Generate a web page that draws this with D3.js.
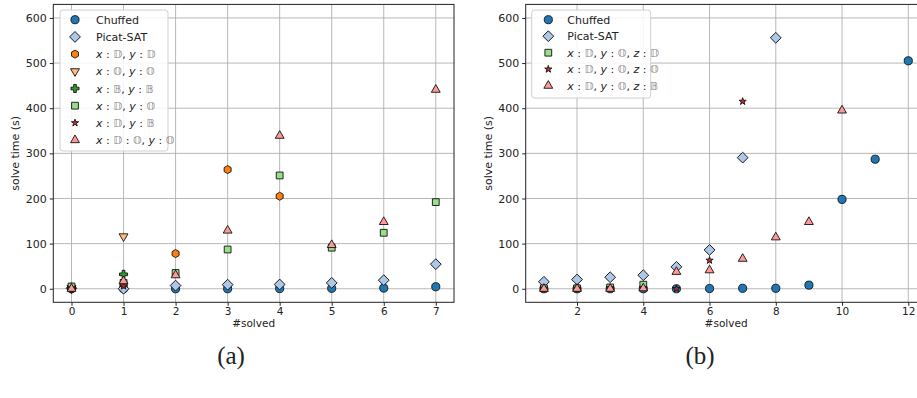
<!DOCTYPE html>
<html>
<head>
<meta charset="utf-8">
<script src="https://cdn.jsdelivr.net/npm/d3@7"></script>
<style>
  body { margin: 0; background: #fff; }
  text { font-family: "DejaVu Sans", sans-serif; fill: #222; }
</style>
</head>
<body>
<script>
// ---- data ----
var yTicks = [0, 100, 200, 300, 400, 500, 600];

// panel (a)
var xTicksA = [0, 1, 2, 3, 4, 5, 6, 7];
var chuffedA = [0, 0, 0, 0, 0.5, 1, 1.5, 4.5];
var picatA = [1, 0, 7, 9, 9.5, 13, 19, 54.5];
var ddA = [0, 10, 78, 264, 205];          // x:D, y:D
var ooA = [2, 116];                        // x:O, y:O
var bbA = [3, 32];                         // x:B, y:B
var doA = [5, 13, 35, 87, 251, 91, 124, 192]; // x:D, y:O
var dbA = [2, 6];                          // x:D, y:B
var dodA = [0, 17, 30, 129, 339, 97, 148, 441]; // x:D:O, y:O

// panel (b)
var xTicksB = [2, 4, 6, 8, 10, 12];
var chuffedB = [0, 0, 0, 0, 0, 0.5, 1, 1, 8, 198, 287, 505];
var picatB = [15.5, 20.5, 25.5, 30, 48.5, 86, 290.5, 556];
var zdB = [1, 1, 3, 9];                    // z:D
var zoB = [1, 1, 2, 2, 0, 63, 415];        // z:O
var zbB = [0, 0, 0, 1, 37.5, 41, 66.5, 114, 148, 395]; // z:B

var W = 917, H = 398;
var svg = d3.select("body").append("svg")
    .attr("width", W)
    .attr("height", H)
    .style("background", "#fff");

// marker shapes
var hexagon = {
  draw: function(ctx, size) {
    var r = Math.sqrt(size / (1.5 * Math.sqrt(3)));
    for (var i = 0; i < 6; i++) {
      var a = Math.PI / 3 * i - Math.PI / 2;
      if (i == 0) ctx.moveTo(r * Math.cos(a), r * Math.sin(a));
      else ctx.lineTo(r * Math.cos(a), r * Math.sin(a));
    }
    ctx.closePath();
  }
};

var styles = {
  chuffed: {type: d3.symbolCircle, size: 52, color: "#1f77b4", rot: 0},
  picat:   {type: d3.symbolSquare, size: 58, color: "#aec7e8", rot: 45},
  dd:      {type: hexagon, size: 42, color: "#ff7f0e", rot: 0},
  oo:      {type: d3.symbolTriangle, size: 34, color: "#ffbb78", rot: 180},
  bb:      {type: d3.symbolCross, size: 36, color: "#2ca02c", rot: 0},
  dsq:     {type: d3.symbolSquare, size: 46, color: "#98df8a", rot: 0},
  star:    {type: d3.symbolStar, size: 16, color: "#d62728", rot: 0},
  tri:     {type: d3.symbolTriangle, size: 34, color: "#ff9896", rot: 0}
};

function marker(g, st, x, y) {
  g.append("path")
    .attr("d", d3.symbol().type(st.type).size(st.size)())
    .attr("transform", "translate(" + x + "," + y + ") rotate(" + st.rot + ")")
    .attr("fill", st.color)
    .attr("stroke", "#111")
    .attr("stroke-width", 0.9);
}

// label with italic variables and double-struck letters
function mathLabel(g, x, y, parts) {
  var t = g.append("text").attr("x", x).attr("y", y).style("font-size", "11px");
  parts.forEach(function(p) {
    var s = t.append("tspan").text(p[0]);
    if (p[1] == "i") s.style("font-style", "italic");
    if (p[1] == "b") s.style("fill", "#8a8a8a");
  });
}

function panel(cfg) {
  var x = d3.scaleLinear().domain(cfg.xDomain).range([cfg.left, cfg.right]);
  var y = d3.scaleLinear().domain([-30, 630]).range([302.3, 4.4]);

  var g = svg.append("g");

  // grid
  g.selectAll(".gx").data(cfg.xTicks).enter().append("line")
    .attr("x1", function(d) { return x(d); })
    .attr("x2", function(d) { return x(d); })
    .attr("y1", y.range()[0]).attr("y2", y.range()[1])
    .attr("stroke", "#b0b0b0").attr("stroke-width", 0.9);
  g.selectAll(".gy").data(yTicks).enter().append("line")
    .attr("x1", cfg.left).attr("x2", cfg.right)
    .attr("y1", function(d) { return y(d); })
    .attr("y2", function(d) { return y(d); })
    .attr("stroke", "#b0b0b0").attr("stroke-width", 0.9);

  // axes
  var xAxis = d3.axisBottom(x).tickValues(cfg.xTicks).tickSizeInner(3.5).tickSizeOuter(0).tickPadding(2);
  var yAxis = d3.axisLeft(y).tickValues(yTicks).tickSizeInner(3.5).tickSizeOuter(0).tickPadding(3);
  var gx = g.append("g").attr("transform", "translate(0," + y.range()[0] + ")").call(xAxis);
  var gy = g.append("g").attr("transform", "translate(" + cfg.left + ",0)").call(yAxis);
  gx.selectAll("text").style("font-size", "10.5px");
  gy.selectAll("text").style("font-size", "11px");
  [gx, gy].forEach(function(a) {
    a.select(".domain").remove();
    a.selectAll("line").attr("stroke", "#222");
    a.selectAll("text").style("font-family", "DejaVu Sans").attr("fill", "#222");
  });

  // markers
  cfg.series.forEach(function(s) {
    var gs = g.append("g");
    s.values.forEach(function(v, i) {
      marker(gs, styles[s.style], x(s.x0 + i), y(v));
    });
  });

  // frame
  g.append("rect")
    .attr("x", cfg.left).attr("y", y.range()[1])
    .attr("width", cfg.right - cfg.left).attr("height", y.range()[0] - y.range()[1])
    .attr("fill", "none").attr("stroke", "#222").attr("stroke-width", 1);

  // axis labels
  g.append("text")
    .attr("x", (cfg.left + cfg.right) / 2).attr("y", 327)
    .attr("text-anchor", "middle").style("font-size", "10.5px")
    .text("#solved");
  g.append("text")
    .attr("transform", "translate(" + (cfg.left - 34) + "," + y(300) + ") rotate(-90)")
    .attr("text-anchor", "middle").style("font-size", "11px")
    .text("solve time (s)");

  // caption
  g.append("text")
    .attr("x", cfg.capX).attr("y", 364)
    .attr("text-anchor", "middle")
    .style("font-family", "Liberation Serif, serif").style("font-size", "25px")
    .text(cfg.caption);

  // legend
  var lg = g.append("g");
  lg.append("rect")
    .attr("x", cfg.leg.x).attr("y", 10)
    .attr("width", cfg.leg.w).attr("height", cfg.leg.h)
    .attr("rx", 3)
    .attr("fill", "#fff").attr("fill-opacity", 0.85)
    .attr("stroke", "#d0d0d0");
  cfg.series.forEach(function(s, i) {
    var yy = 19.7 + i * cfg.leg.step;
    marker(lg, styles[s.style], cfg.leg.x + cfg.leg.mx, yy);
    if (s.label) {
      mathLabel(lg, cfg.leg.x + cfg.leg.tx, yy + 4, s.label);
    } else {
      lg.append("text").attr("x", cfg.leg.x + cfg.leg.tx).attr("y", yy + 4)
        .style("font-size", "11px").text(s.name);
    }
  });
}

var D = "\u{1D53B}", O = "\u{1D546}", B = "\u{1D539}";

panel({
  left: 53.3, right: 454, xDomain: [-0.35, 7.35], xTicks: xTicksA,
  caption: "(a)", capX: 231,
  leg: {x: 60, w: 108, h: 141, step: 17.2, mx: 15, tx: 36},
  series: [
    {name: "Chuffed", style: "chuffed", x0: 0, values: chuffedA},
    {name: "Picat-SAT", style: "picat", x0: 0, values: picatA},
    {label: [["x", "i"], [" : ", ""], [D, "b"], [", ", ""], ["y", "i"], [" : ", ""], [D, "b"]], style: "dd", x0: 0, values: ddA},
    {label: [["x", "i"], [" : ", ""], [O, "b"], [", ", ""], ["y", "i"], [" : ", ""], [O, "b"]], style: "oo", x0: 0, values: ooA},
    {label: [["x", "i"], [" : ", ""], [B, "b"], [", ", ""], ["y", "i"], [" : ", ""], [B, "b"]], style: "bb", x0: 0, values: bbA},
    {label: [["x", "i"], [" : ", ""], [D, "b"], [", ", ""], ["y", "i"], [" : ", ""], [O, "b"]], style: "dsq", x0: 0, values: doA},
    {label: [["x", "i"], [" : ", ""], [D, "b"], [", ", ""], ["y", "i"], [" : ", ""], [B, "b"]], style: "star", x0: 0, values: dbA},
    {label: [["x", "i"], [" : ", ""], [D, "b"], [" : ", ""], [O, "b"], [", ", ""], ["y", "i"], [" : ", ""], [O, "b"]], style: "tri", x0: 0, values: dodA}
  ]
});

panel({
  left: 525.7, right: 926.5, xDomain: [0.45, 12.55], xTicks: xTicksB,
  caption: "(b)", capX: 700,
  leg: {x: 531.7, w: 119, h: 88, step: 16.5, mx: 16.6, tx: 35.6},
  series: [
    {name: "Chuffed", style: "chuffed", x0: 1, values: chuffedB},
    {name: "Picat-SAT", style: "picat", x0: 1, values: picatB},
    {label: [["x", "i"], [" : ", ""], [D, "b"], [", ", ""], ["y", "i"], [" : ", ""], [O, "b"], [", ", ""], ["z", "i"], [" : ", ""], [D, "b"]], style: "dsq", x0: 1, values: zdB},
    {label: [["x", "i"], [" : ", ""], [D, "b"], [", ", ""], ["y", "i"], [" : ", ""], [O, "b"], [", ", ""], ["z", "i"], [" : ", ""], [O, "b"]], style: "star", x0: 1, values: zoB},
    {label: [["x", "i"], [" : ", ""], [D, "b"], [", ", ""], ["y", "i"], [" : ", ""], [O, "b"], [", ", ""], ["z", "i"], [" : ", ""], [B, "b"]], style: "tri", x0: 1, values: zbB}
  ]
});
</script>
</body>
</html>
